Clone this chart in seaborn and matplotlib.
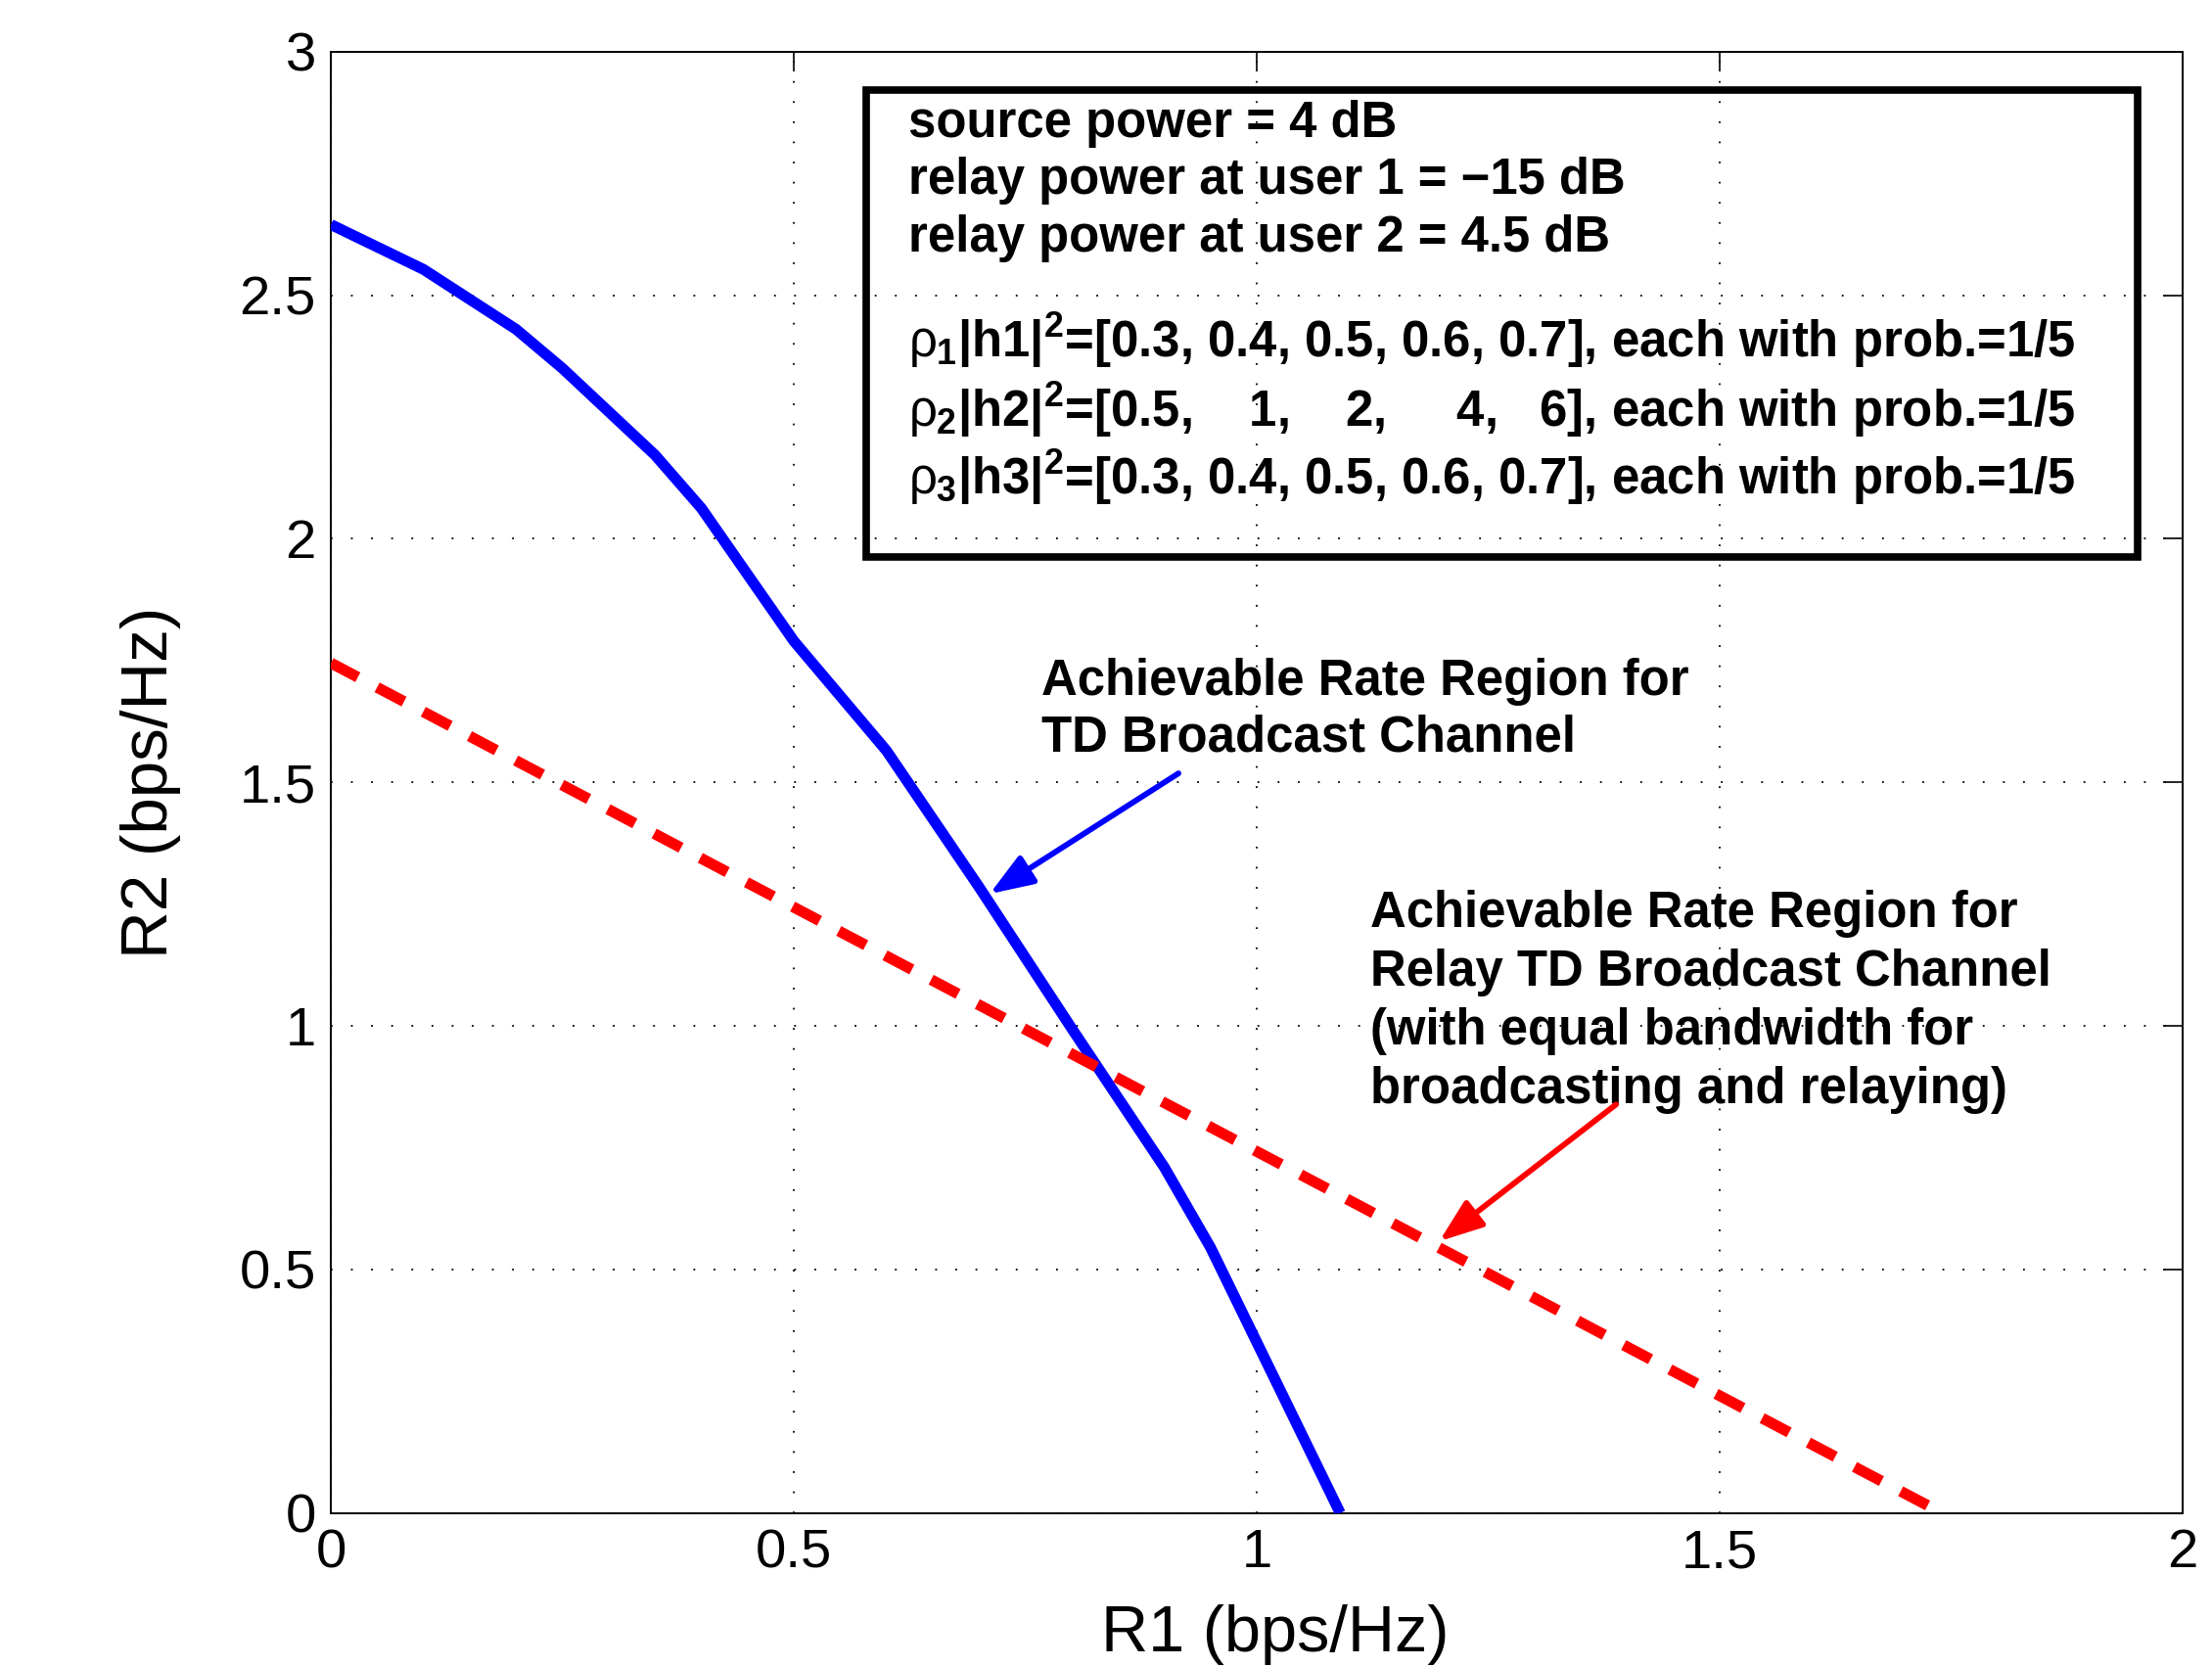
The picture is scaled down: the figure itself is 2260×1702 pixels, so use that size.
import matplotlib
matplotlib.use("Agg")
import matplotlib.pyplot as plt
from matplotlib.patches import Rectangle
import pandas as pd
import seaborn as sns

# ----------------------------
# data
# ----------------------------
td_r1 = [0.0, 0.1, 0.2, 0.25, 0.35, 0.4, 0.5, 0.6, 0.7, 0.8, 0.9, 0.95, 1.09]
td_r2 = [2.645, 2.553, 2.43, 2.35, 2.172, 2.063, 1.79, 1.565, 1.285, 0.995, 0.71, 0.545, 0.0]

relay_r1 = [0.0, 1.74]
relay_r2 = [1.745, 0.0]

box_lines = [
    "source power = 4 dB",
    "relay power at user 1 = \u221215 dB",
    "relay power at user 2 = 4.5 dB",
    r"$\rho_\text{1}\text{|h1|}^\text{2}\text{=[0.3, 0.4, 0.5, 0.6, 0.7], each with prob.=1/5}$",
    r"$\rho_\text{2}\text{|h2|}^\text{2}\text{=[0.5,    1,    2,     4,   6], each with prob.=1/5}$",
    r"$\rho_\text{3}\text{|h3|}^\text{2}\text{=[0.3, 0.4, 0.5, 0.6, 0.7], each with prob.=1/5}$",
]
box_y = [2.8246, 2.708, 2.589, 2.372, 2.231, 2.091]

td_label = ["Achievable Rate Region for", "TD Broadcast Channel"]
td_label_y = [1.679, 1.563]
relay_label = ["Achievable Rate Region for", "Relay TD Broadcast Channel",
               "(with equal bandwidth for", "broadcasting and relaying)"]
relay_label_y = [1.2036, 1.083, 0.9625, 0.842]

td_df = pd.DataFrame({"R1": td_r1, "R2": td_r2})
relay_df = pd.DataFrame({"R1": relay_r1, "R2": relay_r2})

# ----------------------------
# style
# ----------------------------
sns.set_style("white")
plt.rcParams["font.family"] = ["Liberation Sans", "DejaVu Sans"]
plt.rcParams["text.color"] = "black"
plt.rcParams["axes.labelcolor"] = "black"
plt.rcParams["xtick.color"] = "black"
plt.rcParams["ytick.color"] = "black"
plt.rcParams["mathtext.fontset"] = "custom"
plt.rcParams["mathtext.rm"] = "Liberation Sans:bold"
plt.rcParams["mathtext.bf"] = "Liberation Sans:bold"
plt.rcParams["mathtext.it"] = "Liberation Sans"

fig = plt.figure(figsize=(22.6, 17.02), dpi=100)
ax = fig.add_axes([0.1496, 0.0918, 0.8372, 0.8772])

sns.lineplot(data=td_df, x="R1", y="R2", sort=False, color="#0000ff",
             linewidth=8, ax=ax, solid_capstyle="butt", zorder=3)
sns.lineplot(data=relay_df, x="R1", y="R2", sort=False, color="#ff0000",
             linewidth=8, ax=ax, zorder=3, dashes=False)
ax.lines[-1].set_dashes((2.8, 2.0))
ax.lines[-1].set_dash_capstyle("butt")

ax.set_xlim(0, 2)
ax.set_ylim(0, 3)
ax.set_xticks([0, 0.5, 1, 1.5, 2])
ax.set_xticklabels(["0", "0.5", "1", "1.5", "2"])
ax.set_yticks([0, 0.5, 1, 1.5, 2, 2.5, 3])
ax.set_yticklabels(["0", "0.5", "1", "1.5", "2", "2.5", "3"])

ax.grid(True, color="black", linestyle=(0, (1, 10.4)), linewidth=1.3)
for s in ax.spines.values():
    s.set_visible(True)
    s.set_color("black")
    s.set_linewidth(1.4)
ax.tick_params(direction="in", length=14.4, width=1.2, labelsize=40.5,
               pad=11, top=True, right=True, colors="black")

ax.set_xlabel("R1 (bps/Hz)", fontsize=48, labelpad=19)
ax.xaxis.label.set_x(0.51)
ax.set_ylabel("R2 (bps/Hz)", fontsize=48.5, labelpad=43)

# ----------------------------
# parameter box
# ----------------------------
ax.add_patch(Rectangle((0.578, 1.963), 1.951 - 0.578, 2.921 - 1.963,
                       fill=False, edgecolor="black", linewidth=5.5,
                       zorder=4, clip_on=False))
for line, y in zip(box_lines, box_y):
    ax.text(0.6237, y, line, fontsize=36.6, fontweight="bold",
            va="baseline", ha="left", zorder=5)

# ----------------------------
# annotations
# ----------------------------
for line, y in zip(td_label, td_label_y):
    ax.text(0.7674, y, line, fontsize=36.6, fontweight="bold",
            va="baseline", ha="left", zorder=5)
for line, y in zip(relay_label, relay_label_y):
    ax.text(1.122, y, line, fontsize=36.6, fontweight="bold",
            va="baseline", ha="left", zorder=5)

arrow_style = "-|>,head_length=27,head_width=10"
ax.annotate("", xy=(0.7114, 1.271), xytext=(0.9154, 1.5185),
            arrowprops=dict(arrowstyle=arrow_style, color="#0000ff", lw=4.2,
                            mutation_scale=1, shrinkA=0, shrinkB=0),
            zorder=5)
ax.annotate("", xy=(1.197, 0.558), xytext=(1.388, 0.839),
            arrowprops=dict(arrowstyle=arrow_style, color="#ff0000", lw=4.2,
                            mutation_scale=1, shrinkA=0, shrinkB=0),
            zorder=5)

fig.savefig("out.png", dpi=100)
plt.close(fig)
